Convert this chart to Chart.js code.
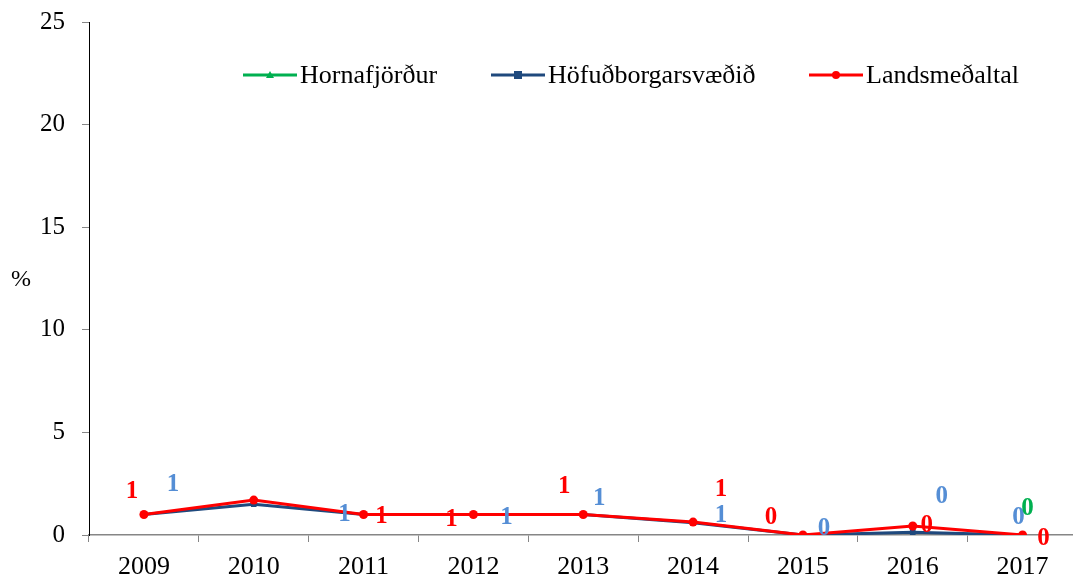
<!DOCTYPE html>
<html>
<head>
<meta charset="utf-8">
<script src="https://cdn.jsdelivr.net/npm/chart.js@4/dist/chart.umd.min.js"></script>
<style>
  html, body { margin: 0; background: #fff; overflow: hidden; }
  #wrap { width: 1082px; height: 578px; position: relative; }
</style>
</head>
<body>
<div id="wrap"><canvas id="chart"></canvas></div>
<script>
const years = ['2009', '2010', '2011', '2012', '2013', '2014', '2015', '2016', '2017'];
const hornafjordur = [null, null, null, null, null, null, null, null, 0];
const hofudborg = [1.0, 1.5, 1.0, 1.0, 1.0, 0.6, 0.0, 0.13, 0.0];
const landsmedaltal = [1.0, 1.7, 1.0, 1.0, 1.0, 0.63, 0.0, 0.44, 0.0];
const yTicks = [0, 5, 10, 15, 20, 25];

const serif = '"Liberation Serif", "Times New Roman", serif';

// label placement relative to each point (null = no label shown)
const labelOffsets = {
  'Hornafjörður': [null, null, null, null, null, null, null, null, [5, -27]],
  'Höfuðborgarsvæðið': [[29, -31], null, [-19, -1], [33, 2], [16, -17], [28, -8], [21, -7], [29, -37], [-4, -18]],
  'Landsmeðaltal': [[-12, -24], null, [18, 1], [-22, 4], [-19, -29], [28, -34], [-32, -18], [14, -1], [21, 3]]
};

const dataLabels = {
  id: 'dataLabels',
  afterDatasetsDraw(chart) {
    const ctx = chart.ctx;
    ctx.save();
    ctx.font = 'bold 25px ' + serif;
    ctx.textAlign = 'center';
    ctx.textBaseline = 'middle';
    // blue first, then green, then red on top
    [1, 0, 2].forEach(i => {
      const ds = chart.data.datasets[i];
      const meta = chart.getDatasetMeta(i);
      const offs = labelOffsets[ds.label];
      meta.data.forEach((pt, j) => {
        const v = ds.data[j];
        if (v === null || !offs[j]) return;
        ctx.fillStyle = ds.labelColor;
        ctx.fillText(String(Math.round(v)), pt.x + offs[j][0], pt.y + offs[j][1] + 1);
      });
    });
    ctx.restore();
  }
};

const extras = {
  id: 'extras',
  afterDraw(chart) {
    const ctx = chart.ctx;
    ctx.save();
    // y axis title
    ctx.font = '24px ' + serif;
    ctx.fillStyle = '#000';
    ctx.textAlign = 'center';
    ctx.textBaseline = 'middle';
    ctx.fillText('%', 21, 280);
    // legend
    const items = [
      { ds: chart.data.datasets[0], x: 243 },
      { ds: chart.data.datasets[1], x: 491 },
      { ds: chart.data.datasets[2], x: 809 }
    ];
    const y = 75;
    items.forEach(it => {
      ctx.strokeStyle = it.ds.borderColor;
      ctx.lineWidth = 3;
      ctx.beginPath();
      ctx.moveTo(it.x, y);
      ctx.lineTo(it.x + 54, y);
      ctx.stroke();
      ctx.fillStyle = it.ds.borderColor;
      const cx = it.x + 27;
      if (it.ds.pointStyle === 'triangle') {
        ctx.beginPath();
        ctx.moveTo(cx, y - 4);
        ctx.lineTo(cx + 4, y + 3);
        ctx.lineTo(cx - 4, y + 3);
        ctx.closePath();
        ctx.fill();
      } else if (it.ds.pointStyle === 'rect') {
        ctx.fillRect(cx - 4, y - 4, 8, 8);
      } else {
        ctx.beginPath();
        ctx.arc(cx, y, 4, 0, Math.PI * 2);
        ctx.fill();
      }
      ctx.fillStyle = '#000';
      ctx.textAlign = 'left';
      ctx.font = '26px ' + serif;
      ctx.fillText(it.ds.label, it.x + 57, y + 1);
    });
    ctx.restore();
  }
};

const ctx = document.getElementById('chart').getContext('2d');
new Chart(ctx, {
  type: 'line',
  data: {
    labels: years,
    datasets: [
      {
        label: 'Hornafjörður',
        data: hornafjordur,
        borderColor: '#00B050',
        backgroundColor: '#00B050',
        labelColor: '#00B050',
        pointStyle: 'triangle',
        pointRadius: 4,
        pointBorderWidth: 0,
        borderWidth: 3,
        order: 2
      },
      {
        label: 'Höfuðborgarsvæðið',
        data: hofudborg,
        borderColor: '#1F497D',
        backgroundColor: '#1F497D',
        labelColor: '#558ED5',
        pointStyle: 'rect',
        pointRadius: 4,
        pointBorderWidth: 0,
        borderWidth: 3,
        order: 1
      },
      {
        label: 'Landsmeðaltal',
        data: landsmedaltal,
        borderColor: '#FF0000',
        backgroundColor: '#FF0000',
        labelColor: '#FF0000',
        pointStyle: 'circle',
        pointRadius: 4.5,
        pointBorderWidth: 0,
        borderWidth: 3,
        order: 0
      }
    ]
  },
  options: {
    responsive: true,
    maintainAspectRatio: false,
    animation: false,
    layout: { padding: { top: 22, right: 0, bottom: 0, left: 0 } },
    plugins: {
      legend: { display: false },
      tooltip: { enabled: false }
    },
    scales: {
      x: {
        offset: true,
        grid: {
          offset: true,
          drawOnChartArea: false,
          tickLength: 7,
          color: '#868686'
        },
        border: { color: '#868686', width: 1.5 },
        ticks: {
          color: '#000',
          font: { family: serif, size: 26 },
          padding: 10,
          maxRotation: 0
        },
        afterFit(scale) {
          scale.height = 43;
          scale.paddingLeft = 0;
          scale.paddingRight = 0;
        }
      },
      y: {
        min: 0,
        max: 25,
        afterBuildTicks(scale) { scale.ticks = yTicks.map(v => ({ value: v })); },
        grid: {
          drawOnChartArea: false,
          tickLength: 7,
          color: '#868686'
        },
        border: { color: '#000', width: 1 },
        ticks: {
          color: '#000',
          font: { family: serif, size: 25 },
          padding: 17
        },
        afterFit(scale) {
          scale.width = 89;
          scale.paddingTop = 0;
          scale.paddingBottom = 0;
        }
      }
    }
  },
  plugins: [dataLabels, extras]
});
</script>
</body>
</html>
